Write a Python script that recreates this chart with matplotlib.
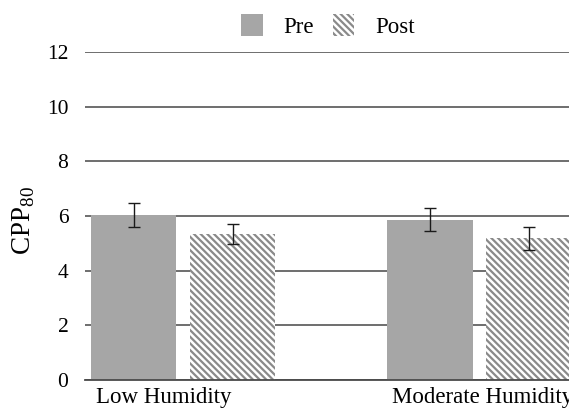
import numpy as np
from matplotlib import pyplot as plt
from matplotlib.patches import Patch

plt.rcParams['font.family'] = ['Liberation Serif', 'DejaVu Serif']
plt.rcParams['mathtext.fontset'] = 'custom'
plt.rcParams['mathtext.rm'] = 'Liberation Serif'
plt.rcParams['hatch.linewidth'] = 1.6

categories = ['Low Humidity', 'Moderate Humidity']
pre_vals = [6.03, 5.87]
pre_err = [0.44, 0.43]
post_vals = [5.34, 5.18]
post_err = [0.37, 0.41]
y_ticks = [0, 2, 4, 6, 8, 10, 12]

PRE_COLOR = '#a6a6a6'
HATCH_COLOR = '#8a8a8a'
GRID_COLOR = '#555555'
HATCH = '\\' * 5


def main():
    fig = plt.figure(figsize=(5.69, 4.08), dpi=100)
    ax = fig.add_axes([0.1494, 0.0686, 0.8506, 0.8039])

    x = np.arange(len(categories))
    width = 0.2886
    offset = 0.167

    err_kw = dict(ecolor='#1a1a1a', elinewidth=1, capsize=4.5, capthick=1)
    ax.bar(x - offset, pre_vals, width, color=PRE_COLOR, linewidth=0,
           yerr=pre_err, error_kw=err_kw, zorder=2)
    ax.bar(x + offset, post_vals, width, color='white', edgecolor=HATCH_COLOR,
           hatch=HATCH, linewidth=0, yerr=post_err, error_kw=err_kw, zorder=2)

    ax.set_xlim(-0.331, 1.303)
    ax.set_ylim(0, 12)
    ax.set_yticks(y_ticks)
    # labels start near the left edge of each group's first bar
    ax.set_xticks(x - offset - width / 2 + 0.017)
    ax.set_xticklabels(categories, fontsize=16.5, ha='left')
    ax.tick_params(axis='y', length=0, pad=12, labelsize=15.5)
    ax.tick_params(axis='x', length=0, pad=5)

    ax.set_axisbelow(True)
    ax.yaxis.grid(True, color=GRID_COLOR, linewidth=1.2)
    for side in ['left', 'right', 'top']:
        ax.spines[side].set_visible(False)
    ax.spines['bottom'].set_color('#4a4a4a')
    ax.spines['bottom'].set_linewidth(1.3)

    fig.text(24 / 569, 1 - 221 / 408, r'CPP$_{\mathrm{80}}$', rotation=90,
             ha='center', va='center', fontsize=19.5)

    handles = [
        Patch(facecolor=PRE_COLOR, linewidth=0, label='Pre'),
        Patch(facecolor='white', edgecolor=HATCH_COLOR, hatch=HATCH,
              linewidth=0, label='Post'),
    ]
    fig.legend(handles=handles, loc='center', ncol=2, frameon=False,
               bbox_to_anchor=(328 / 569, 1 - 26 / 408), fontsize=16.5,
               handlelength=0.95, handleheight=1.1, handletextpad=0.9,
               columnspacing=0.8)

    fig.savefig('out.png', dpi=100)


if __name__ == '__main__':
    main()
